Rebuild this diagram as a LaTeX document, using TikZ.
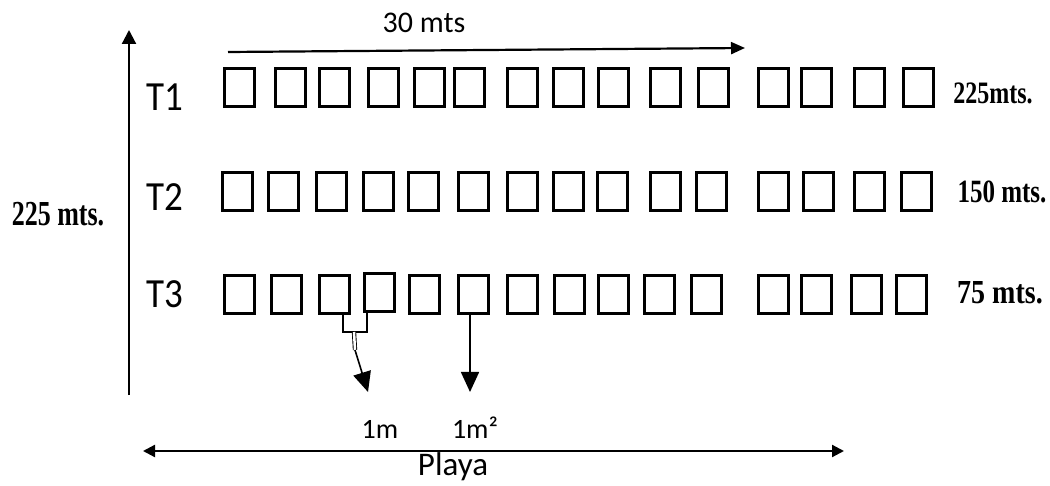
\documentclass[tikz,border=0pt]{standalone}
\usepackage{fontspec}
\usepackage{graphicx}
\setmainfont{Carlito}
\newfontfamily\serifb{Liberation Serif}
\newcommand\vstretch[2]{\scalebox{1}[#1]{#2}}
\usetikzlibrary{arrows.meta}
\begin{document}
\begin{tikzpicture}[x=1pt,y=-1pt,
  cell/.style={draw, line width=3pt, minimum width=30pt, minimum height=38pt, inner sep=0pt},
  rowlab/.style={font=\fontsize{37}{37}\selectfont, inner sep=0pt},
  sanslab/.style={font=\fontsize{30}{30}\selectfont, inner sep=0pt},
  vallab/.style={inner sep=0pt},
  axis/.style={line width=2.2pt},
  bigtip/.style={-{Triangle[width=18pt,length=20pt]}}]
\useasboundingbox (0,0) rectangle (1050,486);
% rows of plots
\foreach \x [count=\i] in {223,274,318,367,413,453,506,552,597,649,697,757,800,853,902}
  \node[cell] (r1c\i) at (\x+16.5,87.5) {};
\foreach \x [count=\i] in {221,267,315,362,407,457,506,552,596,649,695,757,802,853,900}
  \node[cell] (r2c\i) at (\x+16.5,191.5) {};
\foreach \x/\yy [count=\i] in {223/295,270/295,318/295,363/293,408/295,457/295,506/295,553/295,597/295,643/295,690/295,757/295,800/295,850/295,895/295}
  \node[cell] (r3c\i) at (\x+16.5,\yy) {};
% row labels
\node[rowlab] (t1) at (165,97) {\vstretch{1.12}{T1}};
\node[rowlab] (t2) at (165,197) {\vstretch{1.12}{T2}};
\node[rowlab] (t3) at (165,294) {\vstretch{1.12}{T3}};
% values on the right
\node[vallab, font=\serifb\bfseries\fontsize{24}{24}\selectfont] (v1) at (993,93) {\vstretch{1.3}{225mts.}};
\node[vallab, font=\serifb\bfseries\fontsize{25}{25}\selectfont] (v2) at (1002,192) {\vstretch{1.3}{150 mts.}};
\node[vallab, font=\serifb\bfseries\fontsize{28}{28}\selectfont] (v3) at (1000,293) {\vstretch{1.2}{75 mts.}};
% left vertical axis
\coordinate (vb) at (129,395);
\coordinate (vt) at (129,30);
\draw[axis,-{Triangle[width=14pt,length=14pt]}] (vb) -- (vt);
\node[vallab, font=\serifb\bfseries\fontsize{26}{26}\selectfont] (hl) at (58,214) {\vstretch{1.35}{225 mts.}};
% top arrow
\coordinate (ta) at (228,52);
\coordinate (tb) at (745,48);
\draw[axis,-{Triangle[width=12pt,length=14pt]}] (ta) -- (tb);
\node[sanslab] (w) at (424,23) {30 mts};
% bottom double arrow
\coordinate (pa) at (143,451);
\coordinate (pb) at (844,451);
\draw[axis,{Triangle[width=12pt,length=12pt]}-{Triangle[width=12pt,length=12pt]}] (pa) -- (pb);
\node[font=\fontsize{33}{33}\selectfont, inner sep=0pt, anchor=base] (playa) at (453,475) {Playa};
% bracket showing 1 m spacing
\coordinate (bl) at (343,332);
\coordinate (br) at (367,332);
\draw[line width=1.6pt] (r3c3.south -| bl) -- (bl) -- (br) -- (r3c4.south -| br);
\coordinate (d1) at (354,332);
\coordinate (d2) at (355,350);
\coordinate (e1) at (368,392);
\draw[double, double distance=2.5pt, line width=0.9pt] (d1) -- (d2);
\draw[line width=1.6pt, bigtip] (d2) -- (e1);
% arrow showing 1 m2 plot
\coordinate (e2) at (470,392);
\draw[line width=1.6pt, bigtip] (r3c6.south -| e2) -- (e2);
\node[font=\fontsize{28}{28}\selectfont, inner sep=0pt, anchor=base] (m1) at (380,438) {1m};
\node[font=\fontsize{28}{28}\selectfont, inner sep=0pt, anchor=base] (m2) at (475,438) {1m²};
\end{tikzpicture}
\end{document}
